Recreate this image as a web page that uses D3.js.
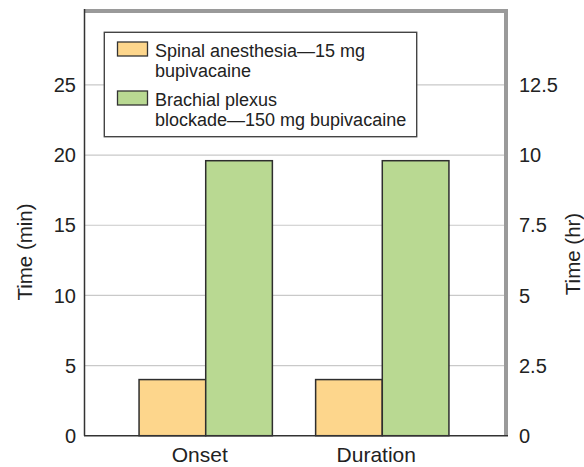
<!DOCTYPE html>
<html>
<head>
<meta charset="utf-8">
<script src="https://cdn.jsdelivr.net/npm/d3@7/dist/d3.min.js"></script>
<style>
  html, body { margin: 0; padding: 0; background: #fff; }
  svg text { font-family: "Liberation Sans", Arial, Helvetica, sans-serif; fill: #222; }
</style>
</head>
<body>
<svg id="chart" width="584" height="467"></svg>
<script>
// Measures compared for each local anaesthetic technique
const categories = ["Onset", "Duration"];
const seriesNames = ["Spinal anesthesia", "Brachial plexus blockade"];
// Onset is read on the minutes axis, duration on the hours axis
const onsetMin = [4, 19.6];
const durationHr = [2, 9.8];
const legendLines = [
  ["Spinal anesthesia\u201415 mg", "bupivacaine"],
  ["Brachial plexus", "blockade\u2014150 mg bupivacaine"]
];
const leftTicks = [0, 5, 10, 15, 20, 25];
const rightTicks = [0, 2.5, 5, 7.5, 10, 12.5];
const colors = ["#fdd68c", "#b9d992"];

// Layout
const plot = { left: 84, right: 506, top: 11, bottom: 435.7 };
const minMax = 30.27;           // minutes at the top edge of the frame
const svg = d3.select("#chart");

const y = d3.scaleLinear().domain([0, minMax]).range([plot.bottom, plot.top]);
const yHr = d3.scaleLinear().domain([0, minMax / 2]).range([plot.bottom, plot.top]);
const x = d3.scaleBand().domain(categories).range([83, 505])
  .paddingInner(0.245).paddingOuter(0.3175);
const xs = d3.scaleBand().domain(d3.range(seriesNames.length)).range([0, x.bandwidth()]);

// Horizontal grid lines
svg.append("g").selectAll("line").data(leftTicks.filter(d => d > 0)).join("line")
  .attr("x1", plot.left + 1).attr("x2", plot.right - 2)
  .attr("y1", d => y(d)).attr("y2", d => y(d))
  .attr("stroke", "#c9c9c9").attr("stroke-width", 1.2);

// Bars
const rows = categories.map((c, i) => ({
  cat: c,
  vals: i === 0
    ? onsetMin.map(v => ({ v, scale: y }))
    : durationHr.map(v => ({ v, scale: yHr }))
}));
const groups = svg.append("g").selectAll("g").data(rows).join("g")
  .attr("transform", d => `translate(${x(d.cat)},0)`);
groups.selectAll("rect").data(d => d.vals).join("rect")
  .attr("x", (d, i) => xs(i))
  .attr("width", xs.bandwidth())
  .attr("y", d => d.scale(d.v))
  .attr("height", d => plot.bottom - d.scale(d.v))
  .attr("fill", (d, i) => colors[i])
  .attr("stroke", "#2e2e2e").attr("stroke-width", 1.5);

// Frame: grey top and right edges, dark left and bottom axes
svg.append("line").attr("x1", plot.left).attr("x2", plot.right + 2)
  .attr("y1", plot.top).attr("y2", plot.top)
  .attr("stroke", "#9a9a9a").attr("stroke-width", 4);
svg.append("line").attr("x1", plot.right).attr("x2", plot.right)
  .attr("y1", plot.top - 2).attr("y2", plot.bottom)
  .attr("stroke", "#9a9a9a").attr("stroke-width", 4);
svg.append("line").attr("x1", plot.left + 0.5).attr("x2", plot.left + 0.5)
  .attr("y1", plot.top - 2).attr("y2", plot.bottom)
  .attr("stroke", "#333").attr("stroke-width", 1.5);
svg.append("line").attr("x1", plot.left).attr("x2", plot.right + 2)
  .attr("y1", plot.bottom).attr("y2", plot.bottom)
  .attr("stroke", "#333").attr("stroke-width", 1.5);

// Axes (labels only)
const leftAxis = svg.append("g").attr("transform", `translate(${plot.left},0)`)
  .call(d3.axisLeft(y).tickValues(leftTicks).tickFormat(d => String(d))
    .tickSize(0).tickPadding(8));
const rightAxis = svg.append("g").attr("transform", `translate(${plot.right},0)`)
  .call(d3.axisRight(yHr).tickValues(rightTicks).tickFormat(d => String(d))
    .tickSize(0).tickPadding(13));
const bottomAxis = svg.append("g").attr("transform", `translate(0,${plot.bottom})`)
  .call(d3.axisBottom(x).tickSize(0).tickPadding(11));
[leftAxis, rightAxis, bottomAxis].forEach(g => {
  g.select(".domain").remove();
  g.selectAll("text").attr("font-size", 20).style("fill", "#222");
});
bottomAxis.selectAll("text").attr("font-size", 21).attr("dx", -6);
leftAxis.selectAll("text").attr("dy", "0.33em");
rightAxis.selectAll("text").attr("dy", "0.33em");

// Axis titles
svg.append("text").attr("transform", "translate(32,252) rotate(-90)")
  .attr("text-anchor", "middle").attr("font-size", 20.5).text("Time (min)");
svg.append("text").attr("transform", "translate(580,254) rotate(-90)")
  .attr("text-anchor", "middle").attr("font-size", 20.5).text("Time (hr)");

// Legend
const legend = svg.append("g");
legend.append("rect").attr("x", 104.3).attr("y", 32.3).attr("width", 312.4).attr("height", 104.4)
  .attr("fill", "#fff").attr("stroke", "#444").attr("stroke-width", 1.4);
const entries = legend.selectAll("g.entry").data(legendLines).join("g")
  .attr("class", "entry")
  .attr("transform", (d, i) => `translate(0,${i * 49})`);
entries.append("rect").attr("x", 117.5).attr("y", 42).attr("width", 30).attr("height", 14)
  .attr("fill", (d, i) => colors[i]).attr("stroke", "#333").attr("stroke-width", 1.3);
entries.each(function (lines) {
  const t = d3.select(this).append("text").attr("x", 155).attr("y", 57.3).attr("font-size", 18);
  lines.forEach((ln, j) => t.append("tspan").attr("x", 155).attr("dy", j === 0 ? 0 : 19.6).text(ln));
});
</script>
</body>
</html>
